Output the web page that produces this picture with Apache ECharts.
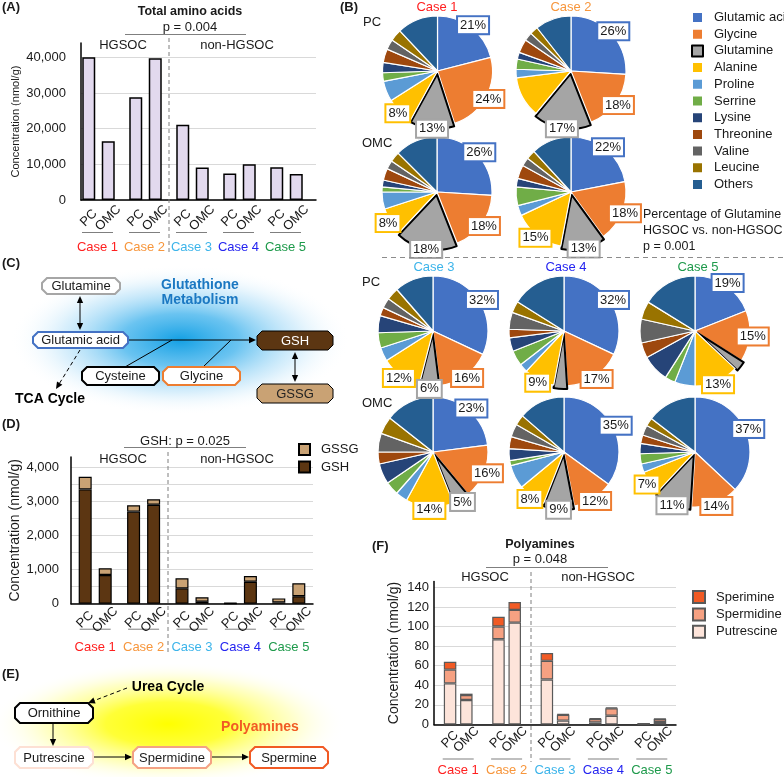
<!DOCTYPE html>
<html><head><meta charset="utf-8">
<script src="https://cdn.jsdelivr.net/npm/echarts@6/dist/echarts.min.js"></script>
<style>html,body{margin:0;padding:0;background:#fff}#c{width:784px;height:777px}</style>
</head><body><div id="c"></div>
<script>
const FONT = '"Liberation Sans", Arial, Helvetica, sans-serif';
const TXT = '#1a1a1a';

// ---------- shared categories ----------
const cases = ['Case 1', 'Case 2', 'Case 3', 'Case 4', 'Case 5'];
const caseColors = ['#ff2020', '#f7963c', '#3cb4ea', '#2424f0', '#1e9a4b'];

// ---------- Panel A: total amino acids (nmol/g) ----------
const totalAA_PC  = [40000, 28800, 21100, 7400, 9200];
const totalAA_OMC = [16500, 39700, 9100, 10000, 7300];

// ---------- Panel D: GSH / GSSG (nmol/g) ----------
const gsh_PC   = [3350, 2700, 450, 10, 40];
const gssg_PC  = [370, 185, 295, 10, 115];
const gsh_OMC  = [840, 2900, 60, 645, 220];
const gssg_OMC = [200, 160, 130, 165, 380];

// ---------- Panel F: polyamines (nmol/g) ----------
const putrescine_PC  = [42, 87, 46, 2, 0.5];
const spermidine_PC  = [14, 13, 19, 3.5, 0.3];
const sperimine_PC   = [8, 10, 8, 0.8, 0.2];
const putrescine_OMC = [25, 104, 4, 9, 2.5];
const spermidine_OMC = [5, 13, 6, 7.5, 3];
const sperimine_OMC  = [1.5, 8, 0.6, 1, 0.5];

// ---------- Panel B: amino-acid composition (%) ----------
const aminoAcids = ['Glutamic acid','Glycine','Glutamine','Alanine','Proline','Serrine','Lysine','Threonine','Valine','Leucine','Others'];
const aaColors = ['#4472c4','#ed7d31','#a5a5a5','#ffc000','#5b9bd5','#70ad47','#264478','#9e480e','#636363','#997300','#255e91'];
const pieCase1PC  = [21, 24, 13, 8, 6, 2.5, 3, 4, 3, 3.5, 12];
const pieCase1OMC = [26, 18, 18, 8, 5, 1.5, 2, 3.5, 2.5, 3, 12.5];
const pieCase2PC  = [26, 18, 17, 12, 2.5, 3, 2, 4, 2.5, 2.4, 10.6];
const pieCase2OMC = [22, 18, 13, 15, 3, 5.5, 2.5, 4, 2.5, 2.7, 11.8];
const pieCase3PC  = [32, 16, 6, 12, 4, 4.5, 5, 2.5, 3, 3.6, 11.4];
const pieCase4PC  = [32, 17, 4, 9, 2.5, 4.5, 4, 2.5, 5, 3.4, 16.1];
const pieCase5PC  = [19, 15, 3, 13, 6, 3, 8, 4.5, 7, 5.3, 16.2];
const pieCase3OMC = [23, 16, 5, 14, 3.5, 4, 6, 3.5, 5.5, 5.1, 14.4];
const pieCase4OMC = [35, 12, 9, 8, 7, 1.5, 3.5, 3.5, 3.8, 3.1, 13.6];
const pieCase5OMC = [37, 14, 11, 7, 2.5, 3, 3, 2.5, 3, 2.4, 14.6];

const pies = [
  [pieCase1PC, [437.5, 71]], [pieCase2PC, [571, 71]],
  [pieCase1OMC, [437, 192]], [pieCase2OMC, [571, 192]],
  [pieCase3PC, [433, 331]], [pieCase4PC, [564, 331]], [pieCase5PC, [695, 331]],
  [pieCase3OMC, [433, 452]], [pieCase4OMC, [564, 452]], [pieCase5OMC, [695, 452]]
];

// ---------- helpers ----------
function caseAxisLabel(margin, gap, padRight) {
  const rich = { l: { width: 31, height: 1, lineHeight: 1, fontSize: 1, backgroundColor: '#7f7f7f' } };
  caseColors.forEach((c, i) => { rich['c' + i] = { color: c, fontSize: 13, lineHeight: gap, fontFamily: FONT }; });
  return { interval: 0, margin, padding: [0, padRight || 0, 0, 0], formatter: (v, i) => '{l| }\n{c' + i + '|' + v + '}', rich };
}
function tissueLabel(t, dist) {
  return { show: true, position: 'bottom', distance: dist, rotate: 45, align: 'center', verticalAlign: 'middle',
           formatter: t, fontSize: 13, color: TXT, fontFamily: FONT };
}
function yAxisCfg(grid, max, interval, labelStep, margin, nameGap, nameSize) {
  return {
    type: 'value', gridIndex: grid, min: 0, max, interval,
    axisLine: { show: true, lineStyle: { color: '#000', width: 1.5 } },
    axisTick: { show: false },
    splitLine: { show: true, showMaxLine: false, lineStyle: { color: '#d9d9d9', width: 1 } },
    axisLabel: { fontSize: 13, color: TXT, fontFamily: FONT, margin,
                 formatter: v => (v % labelStep === 0 && v < max) ? v.toLocaleString('en-US') : '' },
    name: 'Concentration (nmol/g)', nameLocation: 'middle', nameGap,
    nameTextStyle: { fontSize: nameSize, color: TXT, fontFamily: FONT }
  };
}
function xAxisCfg(grid, lab) {
  return { type: 'category', gridIndex: grid, data: cases,
           axisLine: { show: true, lineStyle: { color: '#000', width: 1.5 } },
           axisTick: { show: false }, axisLabel: lab };
}

// ---------- graphics (diagrams & annotations) ----------
const G = [];
function T(x, y, s, o = {}) {
  const a = o.align || 'center';
  G.push({ type: 'text', x, y, silent: true, z: 20,
    style: { text: s, fill: o.color || TXT, font: (o.bold ? 'bold ' : '') + (o.size || 13) + 'px ' + FONT,
             align: a, verticalAlign: 'middle', textAlign: a, textVerticalAlign: 'middle' } });
}
function L(x1, y1, x2, y2, o = {}) {
  G.push({ type: 'line', silent: true, z: 15, shape: { x1, y1, x2, y2 },
    style: { stroke: o.color || '#000', lineWidth: o.w || 1, lineDash: o.dash || null } });
}
function head(x, y, dx, dy, s = 7) {
  const len = Math.hypot(dx, dy); dx /= len; dy /= len; const nx = -dy, ny = dx;
  G.push({ type: 'polygon', silent: true, z: 16, shape: { points: [[x, y],
    [x - dx * s + nx * s * 0.45, y - dy * s + ny * s * 0.45], [x - dx * s - nx * s * 0.45, y - dy * s - ny * s * 0.45]] },
    style: { fill: '#000' } });
}
function arrow(x1, y1, x2, y2, o = {}) {
  const len = Math.hypot(x2 - x1, y2 - y1), ux = (x2 - x1) / len, uy = (y2 - y1) / len;
  L(o.both ? x1 + ux * 5 : x1, o.both ? y1 + uy * 5 : y1, x2 - ux * 5, y2 - uy * 5, o);
  head(x2, y2, ux, uy);
  if (o.both) head(x1, y1, -ux, -uy);
}
function box(x1, y1, x2, y2, stroke, fill, label, tc, lw) {
  const c = 5;
  G.push({ type: 'polygon', silent: true, z: 17, shape: { points: [[x1 + c, y1], [x2 - c, y1], [x2, y1 + c], [x2, y2 - c],
    [x2 - c, y2], [x1 + c, y2], [x1, y2 - c], [x1, y1 + c]] }, style: { fill, stroke, lineWidth: lw || 2 } });
  T((x1 + x2) / 2, (y1 + y2) / 2 + 0.5, label, { color: tc || TXT });
}
function glow(cx, cy, rx, ry, stops) {
  G.push({ type: 'circle', silent: true, z: 1, x: cx, y: cy, scaleX: rx / ry, scaleY: 1,
    shape: { cx: 0, cy: 0, r: ry },
    style: { fill: { type: 'radial', x: 0.5, y: 0.5, r: 0.5, colorStops: stops } } });
}

// panel letters
T(2, 7, '(A)', { bold: true, align: 'left' });
T(340, 7, '(B)', { bold: true, align: 'left' });
T(2, 263, '(C)', { bold: true, align: 'left' });
T(2, 424, '(D)', { bold: true, align: 'left' });
T(2, 674, '(E)', { bold: true, align: 'left' });
T(372, 546, '(F)', { bold: true, align: 'left' });

// A annotations
T(190, 12, 'Total amino acids', { bold: true, size: 12.5 });
T(190, 27, 'p = 0.004');
L(125, 34.5, 246, 34.5, { color: '#7f7f7f' });
T(123, 45, 'HGSOC'); T(237, 45, 'non-HGSOC');
L(169, 38, 169, 252, { color: '#7f7f7f', dash: [4, 3] });

// D annotations
T(185, 441, 'GSH: p = 0.025');
L(124, 447.5, 246, 447.5, { color: '#7f7f7f' });
T(123, 459, 'HGSOC'); T(237, 459, 'non-HGSOC');
L(168, 452, 168, 652, { color: '#7f7f7f', dash: [4, 3] });

// F annotations
T(540, 545, 'Polyamines', { bold: true, size: 12.5 });
T(540, 559, 'p = 0.048');
L(486, 567.5, 608, 567.5, { color: '#7f7f7f' });
T(485, 577, 'HGSOC'); T(598, 577, 'non-HGSOC');
L(531, 572, 531, 762, { color: '#7f7f7f', dash: [4, 3] });

// B annotations
T(437, 7, 'Case 1', { color: caseColors[0] });
T(571, 7, 'Case 2', { color: caseColors[1] });
T(363, 22, 'PC', { align: 'left' });
T(362, 143, 'OMC', { align: 'left' });
L(382, 257.5, 784, 257.5, { color: '#8c8c8c', dash: [5, 4] });
T(434, 267, 'Case 3', { color: caseColors[2] });
T(566, 267, 'Case 4', { color: caseColors[3] });
T(698, 267, 'Case 5', { color: caseColors[4] });
T(362, 282, 'PC', { align: 'left' });
T(362, 403, 'OMC', { align: 'left' });
T(643, 215, 'Percentage of Glutamine', { align: 'left', size: 12.5 });
T(643, 231, 'HGSOC vs. non-HGSOC', { align: 'left', size: 12.5 });
T(643, 247, 'p = 0.001', { align: 'left', size: 12.5 });

// C diagram
glow(180, 340, 170, 75, [{ offset: 0, color: 'rgba(20,160,228,1)' }, { offset: 0.35, color: 'rgba(80,185,238,0.85)' }, { offset: 0.7, color: 'rgba(170,220,248,0.45)' }, { offset: 1, color: 'rgba(255,255,255,0)' }]);
T(200, 285, 'Glutathione', { bold: true, size: 14, color: '#1b78c2' });
T(200, 300, 'Metabolism', { bold: true, size: 14, color: '#1b78c2' });
arrow(80, 296, 80, 330, { both: true });
L(128, 340, 172, 340); L(172, 340, 231, 340);
arrow(231, 340, 256, 340);
L(125, 367, 172, 340); L(203, 367, 231, 340);
arrow(295, 352, 295, 382, { both: true });
arrow(80, 350, 56, 389, { dash: [4, 3] });
box(42, 278, 120, 294, '#a6a6a6', '#fff', 'Glutamine');
box(33, 332, 128, 348, '#4472c4', '#fff', 'Glutamic acid');
box(82, 367, 159, 385, '#000', '#fff', 'Cysteine');
box(163, 367, 240, 385, '#ed7d31', '#fff', 'Glycine');
box(257, 331, 333, 350, '#000', '#5c3612', 'GSH', '#fff', 1);
box(257, 384, 333, 403, '#000', '#c9a274', 'GSSG', '#222', 1);
T(50, 399, 'TCA Cycle', { bold: true, size: 14, color: '#000' });

// E diagram
glow(168, 724, 178, 62, [{ offset: 0, color: 'rgba(255,255,0,1)' }, { offset: 0.35, color: 'rgba(255,255,20,0.85)' }, { offset: 0.7, color: 'rgba(255,255,120,0.4)' }, { offset: 1, color: 'rgba(255,255,255,0)' }]);
T(168, 687, 'Urea Cycle', { bold: true, size: 14, color: '#000' });
arrow(127, 688, 88, 703, { dash: [4, 3] });
arrow(53, 723, 53, 746);
arrow(93, 757, 132, 757);
arrow(211, 757, 249, 757);
box(15, 703, 93, 723, '#000', '#fff', 'Ornithine');
box(15, 747, 93, 768, '#fde0d4', '#fff', 'Putrescine');
box(133, 747, 211, 768, '#f4a284', '#fff', 'Spermidine');
box(250, 747, 328, 768, '#f15a24', '#fff', 'Spermine');
T(260, 727, 'Polyamines', { bold: true, size: 14, color: '#f15a24' });

// ---------- pies ----------
const mainPies = pies.map(([vals, c]) => ({
  type: 'pie', center: c, radius: 55, startAngle: 90, clockwise: true,
  selectedMode: 'single', selectedOffset: 3, label: { show: false }, labelLine: { show: false },
  emphasis: { disabled: true }, select: { itemStyle: { borderColor: '#000', borderWidth: 2 } },
  itemStyle: { borderColor: '#fff', borderWidth: 1.2 },
  data: vals.map((v, i) => ({ name: aminoAcids[i], value: v, selected: i === 2,
    itemStyle: Object.assign({ color: aaColors[i] }, i === 2 ? { borderColor: '#000', borderWidth: 2 } : {}) }))
}));
const labelPies = pies.map(([vals, c]) => ({
  type: 'pie', center: c, radius: [50, 60], startAngle: 90, clockwise: true, silent: true,
  emphasis: { disabled: true }, itemStyle: { color: 'rgba(0,0,0,0)', borderWidth: 0 }, labelLine: { show: false },
  label: { show: true, position: 'inside', formatter: '{c}%', fontSize: 13, color: TXT, fontFamily: FONT,
           backgroundColor: '#fff', borderWidth: 2, padding: [2, 2, 1, 2] },
  data: vals.map((v, i) => ({ name: aminoAcids[i], value: v, label: { show: i < 4, borderColor: aaColors[i] } }))
}));

// ---------- bars ----------
const barA = { color: '#e2d9ee', borderColor: '#000', borderWidth: 1.5 };
const seriesA = [
  { type: 'bar', name: 'PC', xAxisIndex: 0, yAxisIndex: 0, data: totalAA_PC, barWidth: 13, barGap: '50%', itemStyle: barA, label: tissueLabel('PC', 18) },
  { type: 'bar', name: 'OMC', xAxisIndex: 0, yAxisIndex: 0, data: totalAA_OMC, barWidth: 13, barGap: '50%', itemStyle: barA, label: tissueLabel('OMC', 18) },
  { type: 'bar', name: 'spacer', xAxisIndex: 0, yAxisIndex: 0, data: [], barWidth: 5.5, barGap: '50%', silent: true }
];
const gshStyle = { color: '#5c3612', borderColor: '#000', borderWidth: 1.2 };
const gssgStyle = { color: '#c9a274', borderColor: '#000', borderWidth: 1.2 };
const seriesD = [
  { type: 'bar', name: 'GSH', xAxisIndex: 1, yAxisIndex: 1, stack: 'dPC', data: gsh_PC, barWidth: 13, barGap: '54%', itemStyle: gshStyle, label: tissueLabel('PC', 16) },
  { type: 'bar', name: 'GSSG', xAxisIndex: 1, yAxisIndex: 1, stack: 'dPC', data: gssg_PC, barWidth: 13, barGap: '54%', itemStyle: gssgStyle },
  { type: 'bar', name: 'GSH', xAxisIndex: 1, yAxisIndex: 1, stack: 'dOMC', data: gsh_OMC, barWidth: 13, barGap: '54%', itemStyle: gshStyle, label: tissueLabel('OMC', 16) },
  { type: 'bar', name: 'GSSG', xAxisIndex: 1, yAxisIndex: 1, stack: 'dOMC', data: gssg_OMC, barWidth: 13, barGap: '54%', itemStyle: gssgStyle }
];
const bF = '#595959';
const putStyle = { color: '#fde4da', borderColor: bF, borderWidth: 1.2 };
const spdStyle = { color: '#f6a182', borderColor: bF, borderWidth: 1.2 };
const spmStyle = { color: '#f15a24', borderColor: bF, borderWidth: 1.2 };
const seriesF = [
  { type: 'bar', name: 'Putrescine', xAxisIndex: 2, yAxisIndex: 2, stack: 'fPC', data: putrescine_PC, barWidth: 12.5, barGap: '30%', itemStyle: putStyle, label: tissueLabel('PC', 15) },
  { type: 'bar', name: 'Spermidine', xAxisIndex: 2, yAxisIndex: 2, stack: 'fPC', data: spermidine_PC, barWidth: 12.5, barGap: '30%', itemStyle: spdStyle },
  { type: 'bar', name: 'Sperimine', xAxisIndex: 2, yAxisIndex: 2, stack: 'fPC', data: sperimine_PC, barWidth: 12.5, barGap: '30%', itemStyle: spmStyle },
  { type: 'bar', name: 'Putrescine', xAxisIndex: 2, yAxisIndex: 2, stack: 'fOMC', data: putrescine_OMC, barWidth: 12.5, barGap: '30%', itemStyle: putStyle, label: tissueLabel('OMC', 15) },
  { type: 'bar', name: 'Spermidine', xAxisIndex: 2, yAxisIndex: 2, stack: 'fOMC', data: spermidine_OMC, barWidth: 12.5, barGap: '30%', itemStyle: spdStyle },
  { type: 'bar', name: 'Sperimine', xAxisIndex: 2, yAxisIndex: 2, stack: 'fOMC', data: sperimine_OMC, barWidth: 12.5, barGap: '30%', itemStyle: spmStyle }
];

const legendText = { fontSize: 13, color: TXT, fontFamily: FONT, padding: [0, 0, 0, 6] };
const option = {
  animation: false,
  backgroundColor: '#fff',
  textStyle: { fontFamily: FONT },
  grid: [
    { left: 81, top: 43, width: 235, height: 157 },
    { left: 71, top: 457, width: 242, height: 146.7 },
    { left: 434, top: 581.5, width: 242, height: 145.8 }
  ],
  xAxis: [
    xAxisCfg(0, caseAxisLabel(32, 28, 14)),
    xAxisCfg(1, caseAxisLabel(25, 36, 0)),
    xAxisCfg(2, caseAxisLabel(34, 22, 0))
  ],
  yAxis: [
    yAxisCfg(0, 44000, 10000, 10000, 15, 60, 11),
    yAxisCfg(1, 4300, 500, 1000, 12, 49, 14),
    yAxisCfg(2, 146, 20, 20, 5, 33, 14)
  ],
  legend: [
    { orient: 'vertical', left: 686, top: 6, itemWidth: 11, itemHeight: 11, itemGap: 3.7, icon: 'rect', selectedMode: false,
      data: aminoAcids, textStyle: legendText },
    { orient: 'vertical', left: 293, top: 438, itemWidth: 11, itemHeight: 11, itemGap: 4.6, icon: 'rect', selectedMode: false,
      data: ['GSSG', 'GSH'], textStyle: legendText },
    { orient: 'vertical', left: 687, top: 585, itemWidth: 12, itemHeight: 12, itemGap: 3.4, icon: 'rect', selectedMode: false,
      data: ['Sperimine', 'Spermidine', 'Putrescine'], textStyle: legendText }
  ],
  graphic: { elements: G },
  series: [].concat(mainPies, seriesA, seriesD, seriesF, labelPies)
};
const chart = echarts.init(document.getElementById('c'), null, { renderer: 'canvas', width: 784, height: 777 });
chart.setOption(option);
</script>
</body></html>
